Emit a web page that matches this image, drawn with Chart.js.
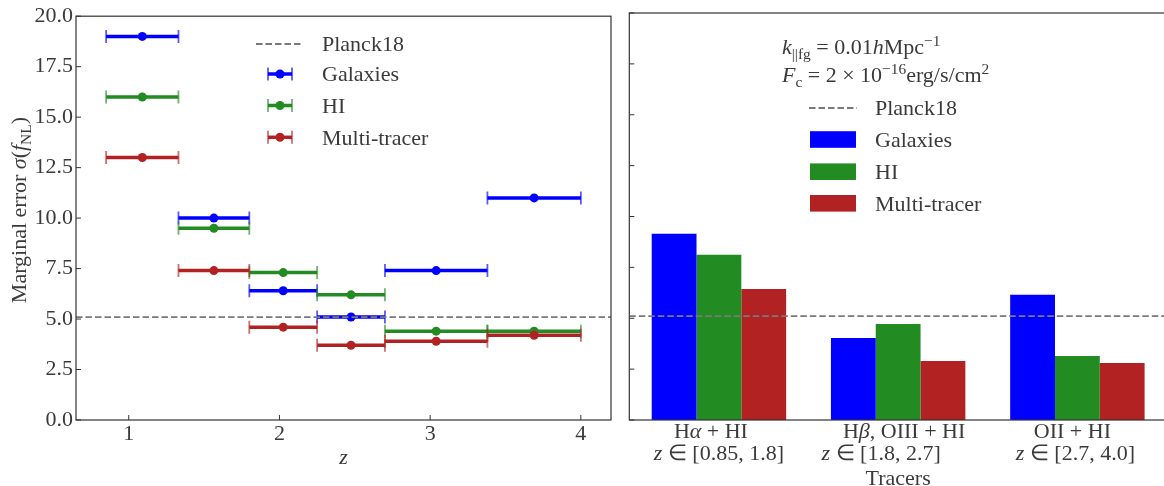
<!DOCTYPE html>
<html lang="en">
<head>
<meta charset="utf-8">
<title>Marginal error on fNL</title>
<script src="https://cdn.jsdelivr.net/npm/chart.js@4.4.0/dist/chart.umd.min.js"></script>
<style>
  html, body { margin: 0; padding: 0; background: #fff; overflow: hidden; }
  #wrap { position: relative; width: 1164px; height: 486px; overflow: hidden; }
  #left-panel { position: absolute; left: 0; top: 0; }
  #right-panel { position: absolute; left: 620px; top: 0; }
</style>
</head>
<body>
<div id="wrap">
  <canvas id="left-panel" width="620" height="486"></canvas>
  <canvas id="right-panel" width="550" height="486"></canvas>
</div>
<script>
// redshift bins and forecast sigma(fNL) per tracer
var zEdges = [0.85, 1.33, 1.8, 2.25, 2.7, 3.38, 4.0];
var galaxiesZ = [19.0, 10.0, 6.4, 5.1, 7.4, 11.0];
var hiZ = [16.0, 9.5, 7.3, 6.2, 4.4, 4.4];
var multiZ = [13.0, 7.4, 4.6, 3.7, 3.9, 4.2];
var zTicks = [1, 2, 3, 4];
var sigmaTicks = [0, 2.5, 5, 7.5, 10, 12.5, 15, 17.5, 20];
var planck18 = 5.1;

// whole-survey errors, one bar per tracer combination
var tracerNames = [
  [["H", ""], ["α", "i"], [" + HI", ""]],
  [["H", ""], ["β", "i"], [", OIII + HI", ""]],
  [["OII + HI", ""]]
];
var tracerRanges = ["[0.85, 1.8]", "[1.8, 2.7]", "[2.7, 4.0]"];
var galaxiesBar = [9.15, 4.03, 6.15];
var hiBar = [8.12, 4.72, 3.15];
var multiBar = [6.44, 2.90, 2.80];

var series = [
  { name: "Galaxies", color: "#0000ff", cap: "rgba(0,0,255,0.65)", z: galaxiesZ, bar: galaxiesBar },
  { name: "HI", color: "#228b22", cap: "rgba(34,139,34,0.65)", z: hiZ, bar: hiBar },
  { name: "Multi-tracer", color: "#b22222", cap: "rgba(178,34,34,0.65)", z: multiZ, bar: multiBar }
];

var FONT = '"Liberation Serif", serif';
var INK = '#3a3a3a';
Chart.defaults.font.family = FONT;
Chart.defaults.font.size = 22;
Chart.defaults.color = INK;

// --- small helpers for mixed italic / sub / sup text ---
function fontFor(style, size) {
  var s = (style === 'sub' || style === 'sup') ? size * 0.7 : size;
  return (style === 'i' ? 'italic ' : '') + s + 'px ' + FONT;
}
function richWidth(ctx, parts, size) {
  var w = 0;
  parts.forEach(function(p) { ctx.font = fontFor(p[1], size); w += ctx.measureText(p[0]).width; });
  return w;
}
// y is the vertical middle of the line
function drawRich(ctx, parts, x, y, size, align) {
  ctx.save();
  ctx.fillStyle = INK;
  ctx.textBaseline = 'alphabetic';
  ctx.textAlign = 'left';
  var w = richWidth(ctx, parts, size);
  var cx = align === 'center' ? x - w / 2 : (align === 'right' ? x - w : x);
  var base = y + size * 0.33;
  parts.forEach(function(p) {
    ctx.font = fontFor(p[1], size);
    var dy = p[1] === 'sub' ? size * 0.22 : (p[1] === 'sup' ? -size * 0.38 : 0);
    ctx.fillText(p[0], cx, base + dy);
    cx += ctx.measureText(p[0]).width;
  });
  ctx.restore();
}
function seg(ctx, x1, y1, x2, y2) {
  ctx.beginPath(); ctx.moveTo(x1, y1); ctx.lineTo(x2, y2); ctx.stroke();
}

// box around the axes plus inward tick marks
function drawFrame(chart, withXTicks) {
  var ctx = chart.ctx, a = chart.chartArea;
  ctx.save();
  ctx.strokeStyle = '#333';
  ctx.lineWidth = 1.2;
  ctx.strokeRect(a.left, a.top, a.right - a.left, a.bottom - a.top);
  ctx.lineWidth = 1;
  var ys = chart.scales.y;
  ys.ticks.forEach(function(t) {
    var py = ys.getPixelForValue(t.value);
    seg(ctx, a.left, py, a.left + 5, py);
  });
  if (withXTicks) {
    var xs = chart.scales.x;
    xs.ticks.forEach(function(t) {
      var px = xs.getPixelForValue(t.value);
      seg(ctx, px, a.bottom, px, a.bottom - 5);
    });
  }
  ctx.restore();
}
function dashed(ctx, x1, x2, y) {
  ctx.save();
  ctx.strokeStyle = '#7a7a7a';
  ctx.lineWidth = 1.8;
  ctx.setLineDash([6.5, 3]);
  seg(ctx, x1, y, x2, y);
  ctx.restore();
}
function drawPlanck(chart) {
  var a = chart.chartArea;
  var py = chart.scales.y.getPixelForValue(planck18);
  dashed(chart.ctx, a.left, a.right, py);
}
function plainText(ctx, text, x, y) {
  drawRich(ctx, [[text, ""]], x, y, 22, 'left');
}

// --- left panel: errors per redshift bin ---
function binSegments(vals) {
  var pts = [];
  vals.forEach(function(v, i) {
    pts.push({ x: zEdges[i], y: v }, { x: zEdges[i + 1], y: v });
    if (i < vals.length - 1) pts.push({ x: zEdges[i + 1], y: null });
  });
  return pts;
}
function binCentres(vals) {
  return vals.map(function(v, i) { return { x: (zEdges[i] + zEdges[i + 1]) / 2, y: v }; });
}

var leftSets = [];
series.forEach(function(s, k) {
  leftSets.push({
    type: 'line', label: s.name, data: binSegments(s.z), order: 6 - 2 * k,
    showLine: true, spanGaps: false, borderColor: s.color, borderWidth: 3.5, borderCapStyle: 'butt',
    pointStyle: 'line', pointRotation: 90, pointRadius: 6.5, pointBorderWidth: 1.8,
    pointBorderColor: s.cap, pointBackgroundColor: s.cap, tension: 0
  });
  leftSets.push({
    type: 'scatter', label: s.name, data: binCentres(s.z), order: 5 - 2 * k,
    pointRadius: 4.5, pointBorderWidth: 0, pointBackgroundColor: s.color
  });
});

var leftExtras = {
  id: 'leftExtras',
  afterDatasetsDraw: function(chart) {
    var ctx = chart.ctx, a = chart.chartArea;
    drawPlanck(chart);
    drawFrame(chart, true);
    // legend
    dashed(ctx, 256, 303, 44);
    plainText(ctx, "Planck18", 322, 44);
    var rows = [74, 105.5, 137.3];
    series.forEach(function(s, k) {
      var y = rows[k];
      ctx.save();
      ctx.strokeStyle = s.color; ctx.lineWidth = 3.5;
      seg(ctx, 268, y, 292, y);
      ctx.strokeStyle = s.cap; ctx.lineWidth = 1.8;
      seg(ctx, 268, y - 6.5, 268, y + 6.5);
      seg(ctx, 292, y - 6.5, 292, y + 6.5);
      ctx.fillStyle = s.color;
      ctx.beginPath(); ctx.arc(280, y, 4.5, 0, Math.PI * 2); ctx.fill();
      ctx.restore();
      plainText(ctx, s.name, 322, y);
    });
    // axis titles
    drawRich(ctx, [["z", "i"]], (a.left + a.right) / 2, a.bottom + 37, 22, 'center');
    ctx.save();
    ctx.translate(19, (a.top + a.bottom) / 2 - 8);
    ctx.rotate(-Math.PI / 2);
    drawRich(ctx, [["Marginal error ", ""], ["σ", "i"], ["(", ""], ["f", "i"], ["NL", "sub"], [")", ""]], 0, 0, 22, 'center');
    ctx.restore();
  }
};

new Chart(document.getElementById('left-panel'), {
  type: 'scatter',
  data: { datasets: leftSets },
  options: {
    responsive: false, animation: false, events: [],
    layout: { padding: { left: 0, top: 13, right: 9, bottom: 0 } },
    plugins: { legend: { display: false }, tooltip: { enabled: false } },
    scales: {
      x: {
        type: 'linear', min: 0.65, max: 4.2,
        afterBuildTicks: function(s) { s.ticks = zTicks.map(function(v) { return { value: v }; }); },
        afterFit: function(s) { s.height = 66; },
        ticks: { padding: 1, autoSkip: false, maxRotation: 0 },
        grid: { display: false, drawTicks: false }, border: { display: false }
      },
      y: {
        min: 0, max: 20,
        afterBuildTicks: function(s) { s.ticks = sigmaTicks.map(function(v) { return { value: v }; }); },
        afterFit: function(s) { s.width = 76; },
        ticks: { padding: 3, autoSkip: false, callback: function(v) { return v.toFixed(1); } },
        grid: { display: false, drawTicks: false }, border: { display: false }
      }
    }
  },
  plugins: [leftExtras]
});

// --- right panel: integrated errors per tracer combination ---
var line1Nudge = [-8, 6, -5];
var line2Nudge = [0, -17, -2];

var rightExtras = {
  id: 'rightExtras',
  afterDatasetsDraw: function(chart) {
    var ctx = chart.ctx, a = chart.chartArea, xs = chart.scales.x;
    drawPlanck(chart);
    drawFrame(chart, false);
    // annotation + legend
    drawRich(ctx, [["k", "i"], ["||fg", "sub"], [" = 0.01", ""], ["h", "i"], ["Mpc", ""], ["−1", "sup"]], 162, 47, 22, 'left');
    drawRich(ctx, [["F", "i"], ["c", "sub"], [" = 2 × 10", ""], ["−16", "sup"], ["erg/s/cm", ""], ["2", "sup"]], 162, 75, 22, 'left');
    dashed(ctx, 189, 237, 108);
    plainText(ctx, "Planck18", 255, 108);
    var rows = [139.5, 171.7, 203.3];
    series.forEach(function(s, k) {
      ctx.fillStyle = s.color;
      ctx.fillRect(190, rows[k] - 8.3, 46, 16.6);
      plainText(ctx, s.name, 255, rows[k]);
    });
    // category labels
    tracerNames.forEach(function(parts, i) {
      var px = xs.getPixelForTick(i);
      drawRich(ctx, parts, px + line1Nudge[i], a.bottom + 11, 22, 'center');
      drawRich(ctx, [["z", "i"], [" ∈ " + tracerRanges[i], ""]], px + line2Nudge[i], a.bottom + 33, 22, 'center');
    });
    drawRich(ctx, [["Tracers", ""]], (a.left + a.right) / 2, a.bottom + 58, 22, 'center');
  }
};

new Chart(document.getElementById('right-panel'), {
  type: 'bar',
  data: {
    labels: tracerNames.map(function(p) { return p.map(function(q) { return q[0]; }).join(''); }),
    datasets: series.map(function(s) {
      return {
        label: s.name, data: s.bar, backgroundColor: s.color, borderWidth: 0,
        categoryPercentage: 0.75, barPercentage: 1.0
      };
    })
  },
  options: {
    responsive: false, animation: false, events: [],
    layout: { padding: { left: 0, top: 13, right: 3, bottom: 0 } },
    plugins: { legend: { display: false }, tooltip: { enabled: false } },
    scales: {
      x: {
        offset: true,
        afterFit: function(s) { s.height = 66; },
        ticks: { display: false },
        grid: { display: false, drawTicks: false }, border: { display: false }
      },
      y: {
        min: 0, max: 20,
        afterBuildTicks: function(s) { s.ticks = sigmaTicks.map(function(v) { return { value: v }; }); },
        afterFit: function(s) { s.width = 9.3; },
        ticks: { display: false },
        grid: { display: false, drawTicks: false }, border: { display: false }
      }
    }
  },
  plugins: [rightExtras]
});
</script>
</body>
</html>
